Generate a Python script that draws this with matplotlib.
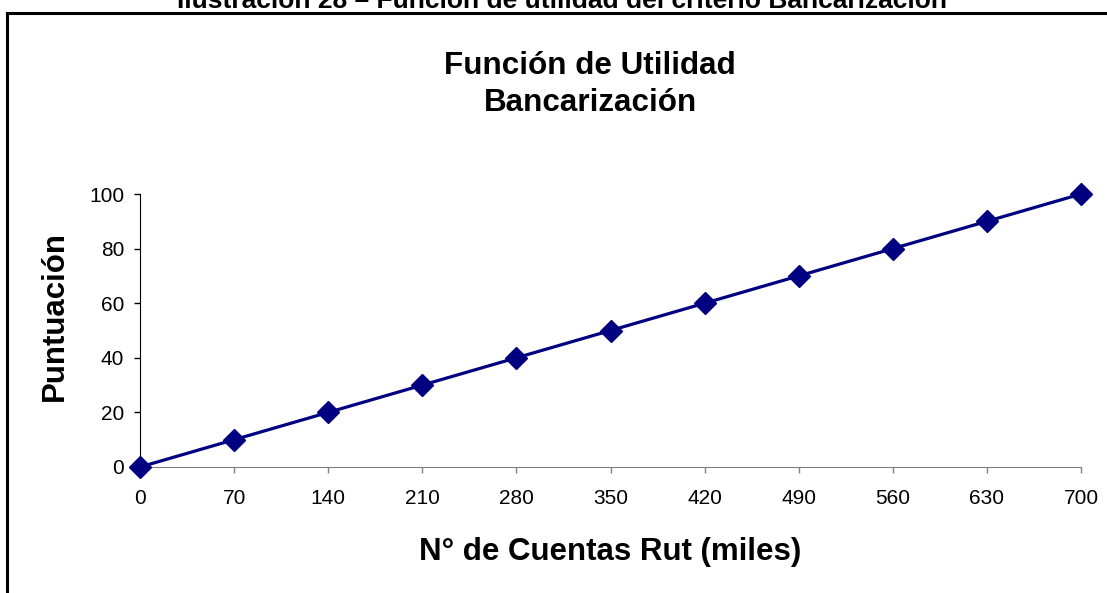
import matplotlib.pyplot as plt
from matplotlib.lines import Line2D

# data
cuentas = [0, 70, 140, 210, 280, 350, 420, 490, 560, 630, 700]
puntuacion = [0, 10, 20, 30, 40, 50, 60, 70, 80, 90, 100]
xticks = [0, 70, 140, 210, 280, 350, 420, 490, 560, 630, 700]
yticks = [0, 20, 40, 60, 80, 100]

plt.rcParams['font.family'] = ['Liberation Sans', 'DejaVu Sans']

fig = plt.figure(figsize=(11.07, 5.93), dpi=100)
ax = fig.add_axes([0.1265, 0.2125, 0.85, 0.4603])

ax.plot(cuentas, puntuacion, color='#000080', lw=2.3, marker='D',
        markersize=11.5, markerfacecolor='#000080', markeredgecolor='#000080',
        clip_on=False, zorder=3)

ax.set_xlim(0, 700)
ax.set_ylim(0, 100)
ax.set_xticks(xticks)
ax.set_yticks(yticks)
ax.tick_params(labelsize=15, length=4.5, width=1)
ax.tick_params(axis='x', color='#808080', pad=11)
ax.tick_params(axis='y', color='black', pad=7)
ax.spines['top'].set_visible(False)
ax.spines['right'].set_visible(False)
ax.spines['bottom'].set_color('#808080')
ax.spines['left'].set_color('black')

fig.text(590 / 1107, 0.858, 'Función de Utilidad\nBancarización', ha='center', va='center',
         fontsize=22.6, fontweight='bold', linespacing=1.3)
fig.text(0.551, 0.069, 'N° de Cuentas Rut (miles)', ha='center', va='center',
         fontsize=22.5, fontweight='bold')
fig.text(0.05, 0.467, 'Puntuación', ha='center', va='center', rotation=90,
         fontsize=22.5, fontweight='bold')

# caption cut at top of the image
fig.text(562 / 1107, 1 - 8 / 593, 'Ilustración 28 – Función de utilidad del criterio Bancarización',
         ha='center', va='baseline', fontsize=19, fontweight='bold')

# outer chart frame (left and top edges only visible)
fig.add_artist(Line2D([7 / 1107, 7 / 1107], [0, 1 - 13 / 593], color='black', lw=2.2,
                      transform=fig.transFigure))
fig.add_artist(Line2D([7 / 1107, 1], [1 - 13 / 593, 1 - 13 / 593], color='black', lw=2.2,
                      transform=fig.transFigure))

fig.savefig('out.png', dpi=100)
